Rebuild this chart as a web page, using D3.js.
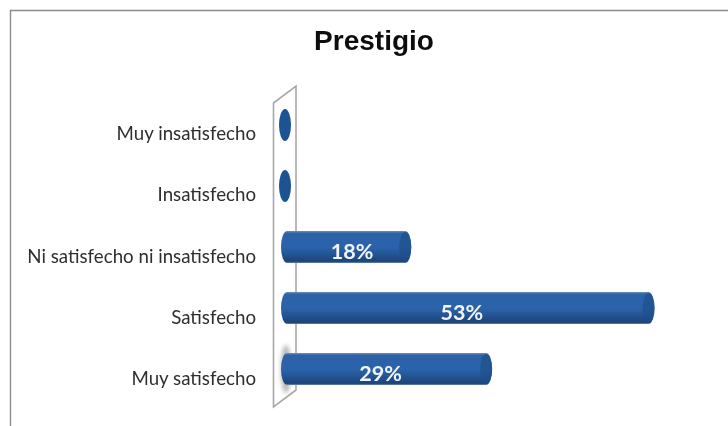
<!DOCTYPE html>
<html><head><meta charset="utf-8">
<script src="https://cdnjs.cloudflare.com/ajax/libs/d3/7.8.5/d3.min.js"></script>
<style>html,body{margin:0;padding:0;background:#fff}svg{display:block}</style>
</head><body><svg id="c" width="728" height="426"></svg>
<script>
const categories = ["Muy insatisfecho","Insatisfecho","Ni satisfecho ni insatisfecho","Satisfecho","Muy satisfecho"];
const values = [0,0,17.7,52.9,29.4];
const percentLabels = ["","","18%","53%","29%"];
const titleText = "Prestigio";

const svg = d3.select("#c");
const defs = svg.append("defs");
const grad = defs.append("linearGradient").attr("id","cyl").attr("x1",0).attr("y1",0).attr("x2",0).attr("y2",1);
[[0,"#6f90ba"],[0.07,"#2d62a6"],[0.5,"#2b64ac"],[0.8,"#224f8b"],[0.95,"#1c4478"],[1,"#6f89aa"]]
  .forEach(d=>grad.append("stop").attr("offset",d[0]).attr("stop-color",d[1]));
const mkBlur = (id,s)=>{const f=defs.append("filter").attr("id",id).attr("x","-150%").attr("y","-50%").attr("width","400%").attr("height","200%");
  f.append("feGaussianBlur").attr("stdDeviation",s);};
const soft = defs.append("filter").attr("id","soft").attr("filterUnits","userSpaceOnUse").attr("x",0).attr("y",0).attr("width",728).attr("height",426);
soft.append("feGaussianBlur").attr("stdDeviation",0.7);
const textBlur = defs.append("filter").attr("id","textBlur").attr("filterUnits","userSpaceOnUse").attr("x",0).attr("y",0).attr("width",728).attr("height",426);
textBlur.append("feGaussianBlur").attr("stdDeviation",0.45);
mkBlur("shadow",2.2);

const x = d3.scaleLinear().domain([0,100]).range([284,975]);
const y = d3.scaleBand().domain(categories).range([80,414]).padding(0.475);
const bw = y.bandwidth();

// frame
svg.append("path").attr("d","M10.5,426V10.5H728").attr("fill","none").attr("stroke","#8a8a8a").attr("stroke-width",1.4);

// title
svg.append("text").attr("x",374).attr("y",50).attr("text-anchor","middle")
  .attr("font-family","'Liberation Sans',Arial,sans-serif").attr("font-weight","bold").attr("font-size",28)
  .attr("fill","#111").attr("filter","url(#textBlur)").text(titleText);

// back wall
svg.append("path")
  .attr("d",d3.line()([[273.5,103],[296,86],[296,390],[273.5,407]])+"Z")
  .attr("fill","#fff").attr("stroke","#a8a8a8").attr("stroke-width",1.6);

// category labels
svg.append("g").attr("filter","url(#textBlur)").selectAll("text").data(categories).join("text")
  .attr("x",256).attr("y",d=>y(d)+bw/2+15.5)
  .attr("text-anchor","end").attr("font-family","Lato,'Open Sans',sans-serif").attr("font-size",18.7)
  .attr("fill","#2e2e2e").text(d=>d);

// shadow of bottom bar on the wall
const last = categories[4];
svg.append("ellipse").attr("cx",286).attr("cy",y(last)+bw/2).attr("rx",5).attr("ry",bw/2+8)
  .attr("fill","#b5b5b5").attr("filter","url(#shadow)");

// cylinders
const rx = 6;
const g = svg.append("g").attr("filter","url(#soft)");
categories.forEach((c,i)=>{
  const v = values[i], top = y(c), ry = bw/2, cy = top+ry, x0 = x(0)+3, x1 = x(v)-1;
  if (v > 0) {
    g.append("path")
      .attr("d",`M${x0},${top}H${x1}A${rx},${ry} 0 0 1 ${x1},${top+bw}H${x0}A${rx},${ry} 0 0 1 ${x0},${top}Z`)
      .attr("fill","url(#cyl)");
    g.append("ellipse").attr("cx",x1).attr("cy",cy).attr("rx",rx).attr("ry",ry-1).attr("fill","#1f4f8c").attr("opacity",0.75);
  } else {
    g.append("ellipse").attr("cx",x(0)+1).attr("cy",cy).attr("rx",rx).attr("ry",ry).attr("fill","#1f5391");
  }
});

// value labels, nudged off the bar centre as in the reference
const labelShift = [0,0,7,-5,-5];
svg.append("g").attr("filter","url(#textBlur)").selectAll("text").data(categories).join("text")
  .attr("x",(d,i)=>(x(0)+x(values[i]))/2+labelShift[i]).attr("y",d=>y(d)+bw/2+12)
  .attr("text-anchor","middle").attr("font-family","Lato,'Open Sans',sans-serif").attr("font-weight","bold").attr("font-size",21.5)
  .attr("fill","#f2f4f6").text((d,i)=>percentLabels[i]);
</script></body></html>
